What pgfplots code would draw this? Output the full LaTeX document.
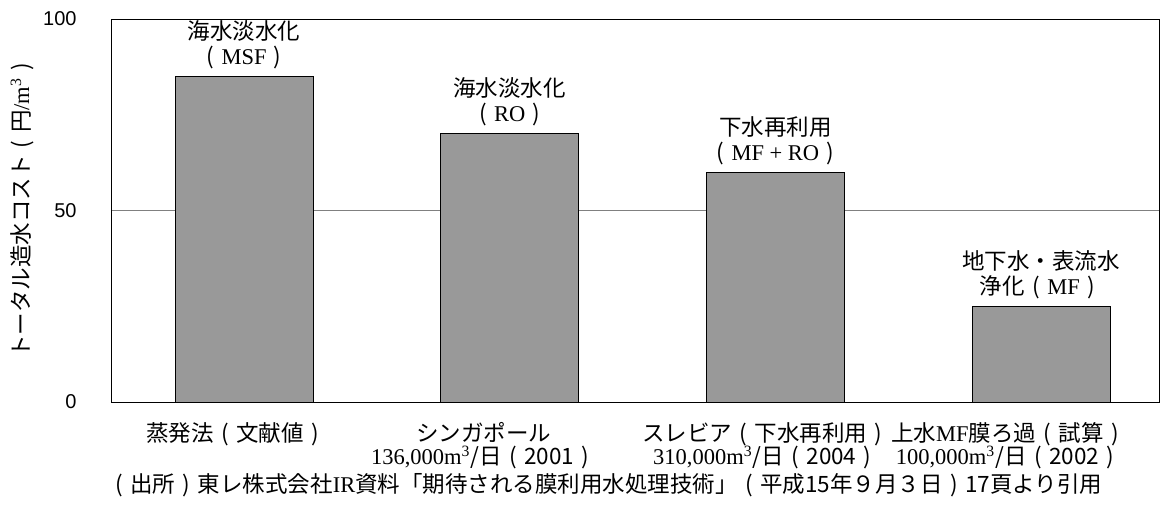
\documentclass[border=0pt]{standalone}
\usepackage{fontspec}
\setmainfont{Noto Sans CJK JP}
\newfontfamily\tms{Liberation Serif}
\newfontfamily\arial{Liberation Sans}
\usepackage{pgfplots}
\pgfplotsset{compat=1.18}
\definecolor{barfill}{HTML}{999999}
\newcommand\lp{\makebox[1em][c]{(}}
\newcommand\rp{\makebox[1em][c]{)}}
\begin{document}
\begin{tikzpicture}
\begin{axis}[
  scale only axis,
  width=523.5pt, height=191.5pt,
  xmin=-0.497, xmax=3.444,
  ymin=0, ymax=100,
  ytick={0,50,100},
  ymajorgrids,
  grid style={draw=black!50, line width=0.5pt},
  major tick length=0pt,
  xtick={-0.030,0.903,1.965,2.878},
  xticklabels={
    {蒸発法\lp 文献値\rp},
    {シンガポール\\{\tms 136,000m\textsuperscript{3}}/日\lp 2001\rp},
    {スレビア\lp 下水再利用\rp\\{\tms 310,000m\textsuperscript{3}}/日\lp 2004\rp},
    {上水{\tms MF}膜ろ過\lp 試算\rp\\{\tms 100,000m\textsuperscript{3}}/日\lp 2002\rp}
  },
  xticklabel style={anchor=north, align=center, inner sep=0pt, yshift=-10pt,
    font=\fontsize{11.25}{11.5}\selectfont},
  yticklabel style={anchor=east, inner sep=0pt, xshift=-17.5pt,
    font=\arial\fontsize{10}{12}\selectfont},
  /pgf/number format/assume math mode=true,
  axis line style={black, line width=0.5pt},
  ybar, bar width=69pt,
  clip=false,
  point meta=explicit symbolic,
  nodes near coords,
  every node near coord/.append style={anchor=south, inner sep=0pt, yshift=3.5pt,
    align=center, text=black, font=\fontsize{11.25}{12.5}\selectfont},
]
\addplot[fill=barfill, draw=black, line width=0.5pt] coordinates {
  (0,85) [{海水淡水化\\\lp{\tms MSF}\rp}]
  (1,70) [{海水淡水化\\\lp{\tms RO}\rp}]
  (2,60) [{下水再利用\\\lp{\tms MF + RO}\rp}]
  (3,25) [{地下水・表流水\\浄化\lp{\tms MF}\rp}]
};
\node[rotate=90, anchor=center, font=\fontsize{11.25}{12}\selectfont]
  at (rel axis cs:-0.0860,0.51) {トータル造水コスト\lp 円{\tms /m\textsuperscript{3}}\rp};
\node[anchor=center, font=\fontsize{11.25}{12}\selectfont]
  at (rel axis cs:0.4709,-0.2167) {\lp 出所\rp 東レ株式会社{\tms IR}資料「期待される膜利用水処理技術」\lp 平成15年９月３日\rp 17頁より引用};
\coordinate (BL) at (rel axis cs:-0.10697,-0.26893);
\coordinate (TR) at (rel axis cs:1.01433,1.04961);
\end{axis}
\pgfresetboundingbox
\useasboundingbox (BL) rectangle (TR);
\end{tikzpicture}
\end{document}
